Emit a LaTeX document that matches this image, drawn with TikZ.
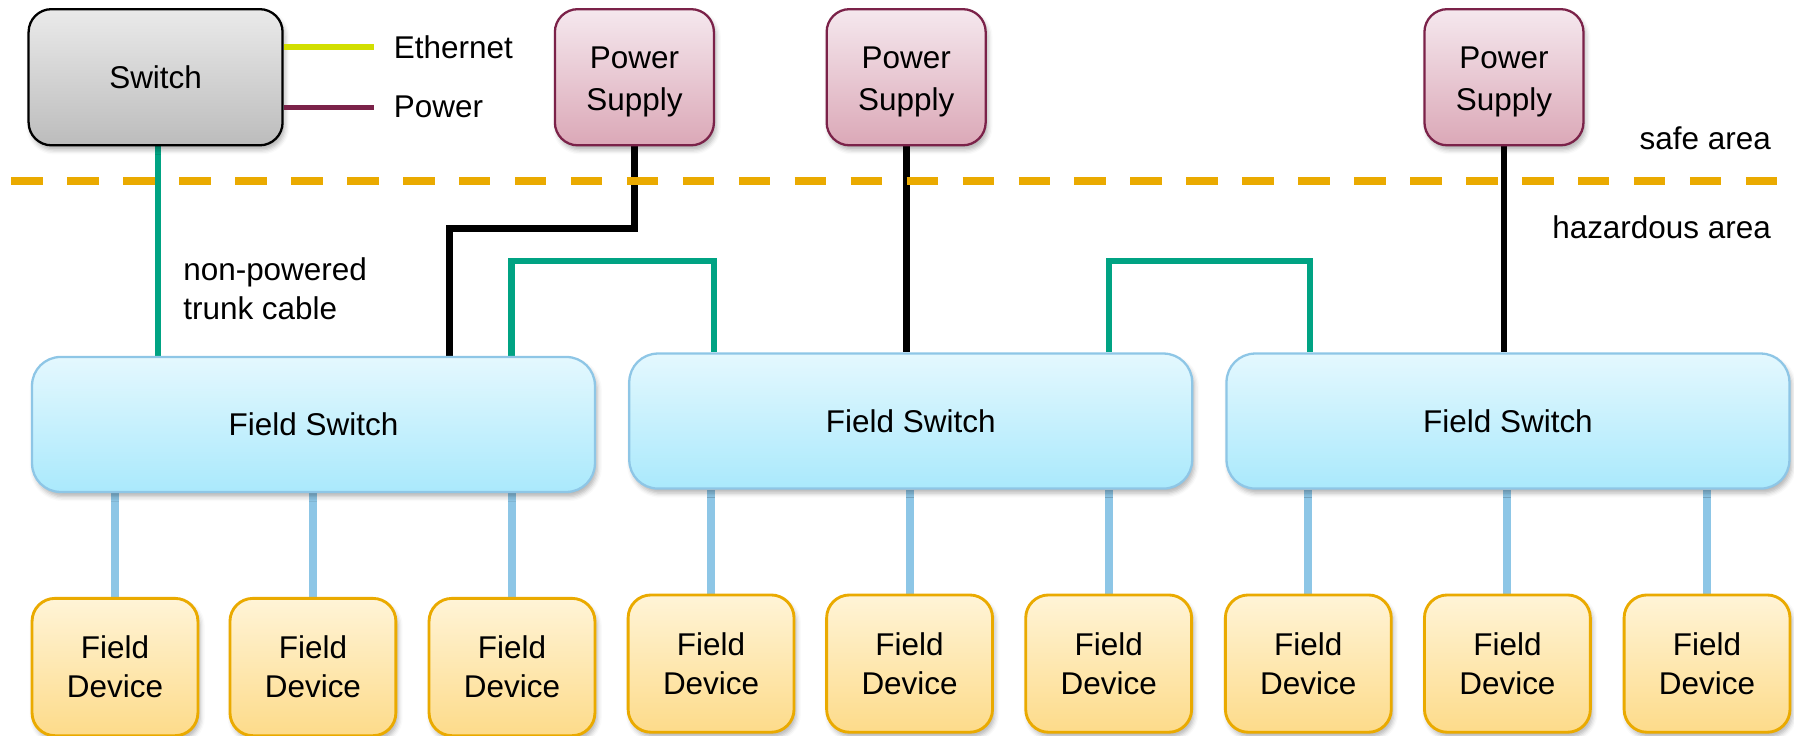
\documentclass[tikz,border=0pt]{standalone}
\usepackage{fontspec}
\setmainfont{Liberation Sans}
\usetikzlibrary{shadows.blur,backgrounds}
\definecolor{teallink}{RGB}{0,163,131}
\definecolor{bluelink}{RGB}{141,198,230}
\definecolor{hazline}{RGB}{234,170,0}
\definecolor{ethcol}{RGB}{210,223,0}
\definecolor{powcol}{RGB}{123,34,73}
\definecolor{swtop}{RGB}{234,234,234}
\definecolor{swbot}{RGB}{188,188,188}
\definecolor{pstop}{RGB}{245,232,238}
\definecolor{psbot}{RGB}{219,168,183}
\definecolor{fstop}{RGB}{228,248,254}
\definecolor{fsbot}{RGB}{170,233,252}
\definecolor{fsborder}{RGB}{142,198,230}
\definecolor{fdtop}{RGB}{255,244,215}
\definecolor{fdbot}{RGB}{253,219,138}
\newcommand{\pstext}{\rule{0pt}{27pt}Power\\Supply}
\begin{document}
\begin{tikzpicture}[x=1pt,y=-1pt,
  font=\fontsize{27.5}{34}\selectfont,
  basebox/.style={rounded corners=20pt, line width=2pt, inner sep=0pt, align=center,
    blur shadow={shadow xshift=2pt, shadow yshift=-4pt, shadow blur radius=4pt, shadow opacity=30}},
  swbox/.style={basebox, draw=black, top color=swtop, bottom color=swbot,
    minimum width=222pt, minimum height=119pt},
  psbox/.style={basebox, draw=powcol, top color=pstop, bottom color=psbot,
    minimum width=139pt, minimum height=119pt, font=\fontsize{27.5}{36}\selectfont},
  fsbox/.style={basebox, rounded corners=25pt, draw=fsborder, top color=fstop, bottom color=fsbot,
    minimum width=492pt, minimum height=118pt},
  fdbox/.style={basebox, draw=hazline, line width=2.5pt, top color=fdtop, bottom color=fdbot,
    minimum width=145pt, minimum height=120pt},
  lbl/.style={inner sep=0pt, align=left},
  trunk/.style={draw=teallink, line width=5.5pt},
  pwr/.style={draw=black, line width=6pt},
  drop/.style={draw=bluelink, line width=7pt},
  sepline/.style={draw=hazline, line width=7pt, dash pattern=on 27.5pt off 21.4pt},
  legline/.style={line width=5pt}
]
\useasboundingbox (0,0) rectangle (1568,643);

% separator
\coordinate (sepL) at (10,158);
\coordinate (sepR) at (1556,158);
\draw[sepline] (sepL) -- (sepR);

% top row
\node[swbox] (sw) at (136,67.5) {Switch};
\node[psbox] (ps1) at (554.5,67.5) {\pstext};
\node[psbox] (ps2) at (792,67.5) {\pstext};
\node[psbox] (ps3) at (1314.5,67.5) {\pstext};

% legend
\node[lbl, anchor=west] (eth) at (344,41) {Ethernet};
\node[lbl, anchor=west] (pow) at (344,93) {Power};
\draw[legline, draw=ethcol] (sw.east |- eth.west) -- ([xshift=-17pt]eth.west);
\draw[legline, draw=powcol] (sw.east |- 0,94) -- ([xshift=-17pt]pow.west |- 0,94);

% area labels
\node[lbl, anchor=east] (safe) at (1548,121) {safe area};
\node[lbl, anchor=east] (haz) at (1548,199) {hazardous area};
\node[lbl, anchor=west] (trunklbl) at (160,252) {non-powered\\trunk cable};

% field switches
\node[fsbox] (fs1) at (274,371) {Field Switch};
\node[fsbox] (fs2) at (796,368) {Field Switch};
\node[fsbox] (fs3) at (1318,368) {Field Switch};

% field devices
\node[fdbox] (fd1) at (100.5,583) {Field\\Device};
\node[fdbox] (fd2) at (273.5,583) {Field\\Device};
\node[fdbox] (fd3) at (447.5,583) {Field\\Device};
\node[fdbox] (fd4) at (621.5,580) {Field\\Device};
\node[fdbox] (fd5) at (795,580) {Field\\Device};
\node[fdbox] (fd6) at (969,580) {Field\\Device};
\node[fdbox] (fd7) at (1143.5,580) {Field\\Device};
\node[fdbox] (fd8) at (1317.5,580) {Field\\Device};
\node[fdbox] (fd9) at (1492,580) {Field\\Device};

\begin{scope}[on background layer]
% trunk from switch
\draw[trunk] (sw.south -| 138,0) -- (fs1.north -| 138,0);
% power to field switches
\coordinate (pb1) at (393,200);
\draw[pwr] (ps1.south) |- (pb1) -- (pb1 |- fs1.north);
\draw[pwr] (ps2.south) -- (ps2.south |- fs2.north);
\draw[pwr] (ps3.south) -- (ps3.south |- fs3.north);
% trunks between field switches
\coordinate (ta) at (447,228);
\coordinate (tb) at (624,228);
\draw[trunk] (ta |- fs1.north) -- (ta) -- (tb) -- (tb |- fs2.north);
\coordinate (tc) at (969,228);
\coordinate (td) at (1145,228);
\draw[trunk] (tc |- fs2.north) -- (tc) -- (td) -- (td |- fs3.north);
% drops to devices
\foreach \d/\s in {fd1/fs1,fd2/fs1,fd3/fs1,fd4/fs2,fd5/fs2,fd6/fs2,fd7/fs3,fd8/fs3,fd9/fs3}
  \draw[drop] (\d.north |- \s.south) -- (\d.north);
\end{scope}
\end{tikzpicture}
\end{document}
